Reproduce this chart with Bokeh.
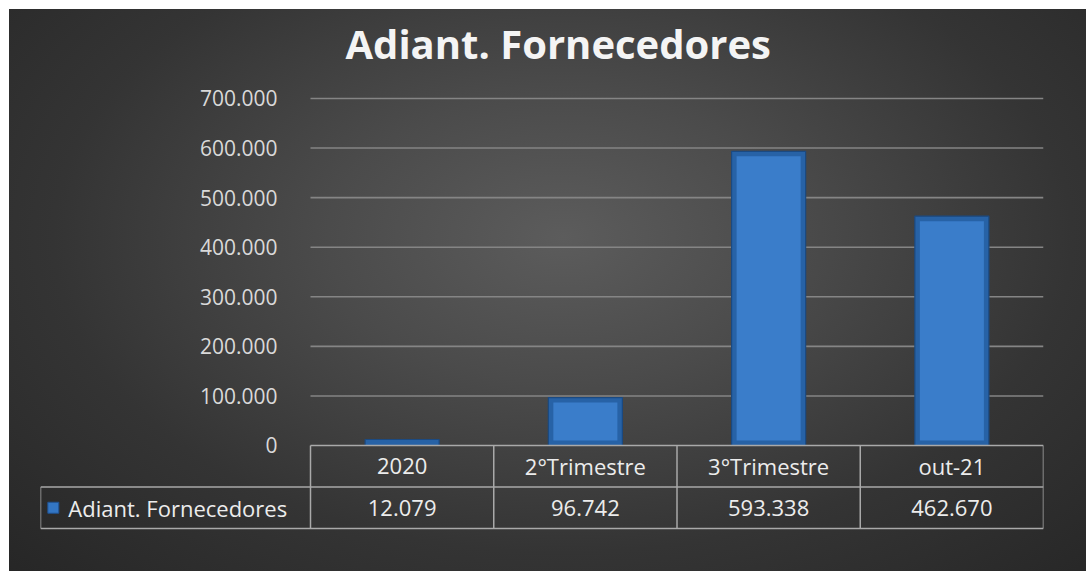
from bokeh.plotting import figure
from bokeh.models import Range1d, ColumnDataSource
from bokeh.core.properties import value
from bokeh.embed import file_html
from bokeh.resources import INLINE

# ---- data ----
title_text = "Adiant. Fornecedores"
series_name = "Adiant. Fornecedores"
categories = ["2020", "2°Trimestre", "3°Trimestre", "out-21"]
values = [12079, 96742, 593338, 462670]
y_ticks = [0, 100000, 200000, 300000, 400000, 500000, 600000, 700000]
y_tick_labels = ["0", "100.000", "200.000", "300.000", "400.000", "500.000", "600.000", "700.000"]


def fmt(v):
    return f"{v:,}".replace(",", ".")


FONT = "Open Sans"
n = len(categories)
centers = [i + 0.5 for i in range(n)]
legend_w = 270 / 183.25  # legend column width in column units

Y0, Y1 = -191643, 736311
FRAME_H = 571 - 80 - 31
unit_per_px = (Y1 - Y0) / FRAME_H

p = figure(
    width=1086, height=571, output_backend="svg", toolbar_location=None, tools="",
    x_axis_location=None, y_axis_location=None,
    x_range=Range1d(-legend_w, n), y_range=Range1d(Y0, Y1),
    min_border_left=40, min_border_right=43, min_border_top=80, min_border_bottom=31,
)
p.extra_y_ranges = {"tbl": Range1d(2.289, -8.795)}
p.grid.visible = False
p.outline_line_color = None
p.background_fill_color = None
p.border_fill_color = None
p.styles = {
    "background": "radial-gradient(ellipse farthest-corner at 51% 40%, #5c5c5c 0%, #4b4b4b 30%, "
                  "#343434 65%, #262626 100%) 9px 9px / 100% 100% no-repeat, #ffffff"
}

p.title.text = title_text
p.title.align = "left"
p.title.offset = 305
p.title.standoff = 20
p.title.text_font = FONT
p.title.text_font_size = "40px"
p.title.text_font_style = "bold"
p.title.text_color = "#f4f4f4"

# gridlines (non-zero ticks) across the category columns
grid_src = ColumnDataSource(dict(y=y_ticks[1:]))
p.segment(x0=0, x1=n, y0="y", y1="y", source=grid_src, line_color="#858585", line_width=1.6)

# y tick labels
tick_src = ColumnDataSource(dict(y=y_ticks, t=y_tick_labels))
p.text(x=-0.18, y="y", text="t", source=tick_src, text_align="right", text_baseline="middle",
       text_font=value(FONT), text_font_size="21px", text_color="#d9d9d9")

# bars with a bevelled look: outer dark body + lighter inner face
inset = 5 * unit_per_px
bar_src = ColumnDataSource(dict(
    x=centers, top=values,
    itop=[max(v - inset, inset) for v in values],
))
p.vbar(x="x", top="top", bottom=0, width=0.404, source=bar_src,
       fill_color="#2762a6", line_color="#1b4a82", line_width=1.2)
p.vbar(x="x", top="itop", bottom=inset, width=0.404 - 10 / 183.25, source=bar_src,
       fill_color="#3a7dca", line_color=None)

# data table lines
tl = "#a9a9a9"
p.segment(x0=[0, -legend_w, -legend_w], x1=[n, n, n], y0=[0, 1, 2], y1=[0, 1, 2],
          y_range_name="tbl", line_color=tl, line_width=1.5)
xs = list(range(n + 1))
p.segment(x0=xs, x1=xs, y0=[0] * len(xs), y1=[2] * len(xs),
          y_range_name="tbl", line_color=tl, line_width=1.5)
p.segment(x0=[-legend_w], x1=[-legend_w], y0=[1], y1=[2],
          y_range_name="tbl", line_color=tl, line_width=1.5)

# header row (categories)
hdr_src = ColumnDataSource(dict(x=centers, y=[0.5] * n, t=categories))
p.text(x="x", y="y", text="t", source=hdr_src, y_range_name="tbl",
       text_align="center", text_baseline="middle",
       text_font=value(FONT), text_font_size="22px", text_color="#ececec")

# values row
val_src = ColumnDataSource(dict(x=centers, y=[1.5] * n, t=[fmt(v) for v in values]))
p.text(x="x", y="y", text="t", source=val_src, y_range_name="tbl",
       text_align="center", text_baseline="middle",
       text_font=value(FONT), text_font_size="22px", text_color="#ececec")

# legend key + series name
p.scatter(x=[-legend_w + 0.07], y=[1.5], y_range_name="tbl", marker="square", size=11,
          fill_color="#3376c4", line_color="#1f5190")
p.text(x=[-legend_w + 0.152], y=[1.5], text=[series_name], y_range_name="tbl",
       text_align="left", text_baseline="middle",
       text_font=value(FONT), text_font_size="22px", text_color="#ececec")

open("out.html", "w").write(file_html(p, INLINE))
